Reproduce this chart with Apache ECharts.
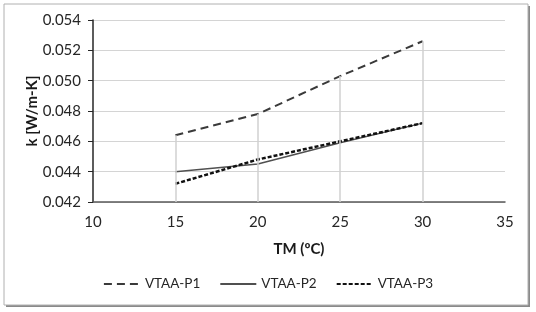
<!DOCTYPE html>
<html><head><meta charset="utf-8">
<script src="https://cdn.jsdelivr.net/npm/echarts@6/dist/echarts.min.js"></script>
<style>html,body{margin:0;padding:0;background:#fff}#c{width:536px;height:312px}</style>
</head><body><div id="c"></div>
<script>
var temps = [15, 20, 25, 30];
var p1 = [0.0464, 0.0478, 0.0503, 0.0526];
var p2 = [0.0440, 0.0445, 0.0459, 0.0472];
var p3 = [0.0432, 0.0448, 0.0460, 0.0472];
var seriesNames = ['VTAA-P1', 'VTAA-P2', 'VTAA-P3'];
var yMin = 0.042, yMax = 0.054, yStep = 0.002;
var xMin = 10, xMax = 35, xStep = 5;

function pairs(v){ return temps.map(function(t,i){ return [t, v[i]]; }); }
var dropData = temps.map(function(t,i){
  var top = Math.max(p1[i], p2[i], p3[i]);
  return [{coord:[t, yMin]}, {coord:[t, top]}];
});
var font = 'Lato';
var chart = echarts.init(document.getElementById('c'), null, {renderer:'canvas'});
chart.setOption({
  animation:false,
  textStyle:{fontFamily:font},
  graphic:[
    {type:'rect', shape:{x:6,y:6,width:524,height:301}, style:{fill:'#8a8a8a'}, z:-10},
    {type:'rect', shape:{x:4,y:4,width:524,height:301}, style:{fill:'#fff', stroke:'#b0b0b0', lineWidth:1}, z:-9}
  ],
  grid:{left:93, right:31, top:20, bottom:110},
  legend:{
    data:seriesNames, bottom:16, left:'center', itemWidth:36, itemHeight:10, itemGap:19,
    itemStyle:{opacity:0},
    textStyle:{fontFamily:font, fontSize:13.5, color:'#262626'}
  },
  xAxis:{
    type:'value', min:xMin, max:xMax, interval:xStep,
    name:'TM (ºC)', nameLocation:'middle', nameGap:40,
    nameTextStyle:{fontFamily:font, fontSize:15, fontWeight:'bold', color:'#1a1a1a'},
    axisLine:{lineStyle:{color:'#595959', width:1.5}},
    axisTick:{show:false},
    axisLabel:{fontSize:15, color:'#262626', margin:13},
    splitLine:{show:false}
  },
  yAxis:{
    type:'value', min:yMin, max:yMax, interval:yStep,
    name:'k [W/m-K]', nameLocation:'middle', nameGap:53, nameMoveOverlap:false,
    nameTextStyle:{fontFamily:font, fontSize:15, fontWeight:'bold', color:'#1a1a1a'},
    axisLine:{show:true, lineStyle:{color:'#262626', width:1.5}},
    axisTick:{show:true, length:5, lineStyle:{color:'#262626'}},
    axisLabel:{fontSize:15, color:'#262626', margin:12, formatter:function(v){return v.toFixed(3);}},
    splitLine:{lineStyle:{color:'#d4d4d4', width:1.2}}
  },
  series:[
    {name:'drop', type:'line', data:[], silent:true, z:1,
     markLine:{silent:true, symbol:['none','none'], label:{show:false},
       lineStyle:{color:'#d0d0d0', width:1.5, type:'solid'}, data:dropData}},
    {name:seriesNames[0], type:'line', data:pairs(p1), symbol:'none', z:3,
     lineStyle:{color:'#3a3a3a', width:2, type:[8,5]}, itemStyle:{color:'#3a3a3a'}},
    {name:seriesNames[1], type:'line', data:pairs(p2), symbol:'none', z:3,
     lineStyle:{color:'#505050', width:1.5, type:'solid'}, itemStyle:{color:'#505050'}},
    {name:seriesNames[2], type:'line', data:pairs(p3), symbol:'none', z:4,
     lineStyle:{color:'#111', width:2.5, type:[4,2]}, itemStyle:{color:'#111'}}
  ]
});
</script></body></html>
